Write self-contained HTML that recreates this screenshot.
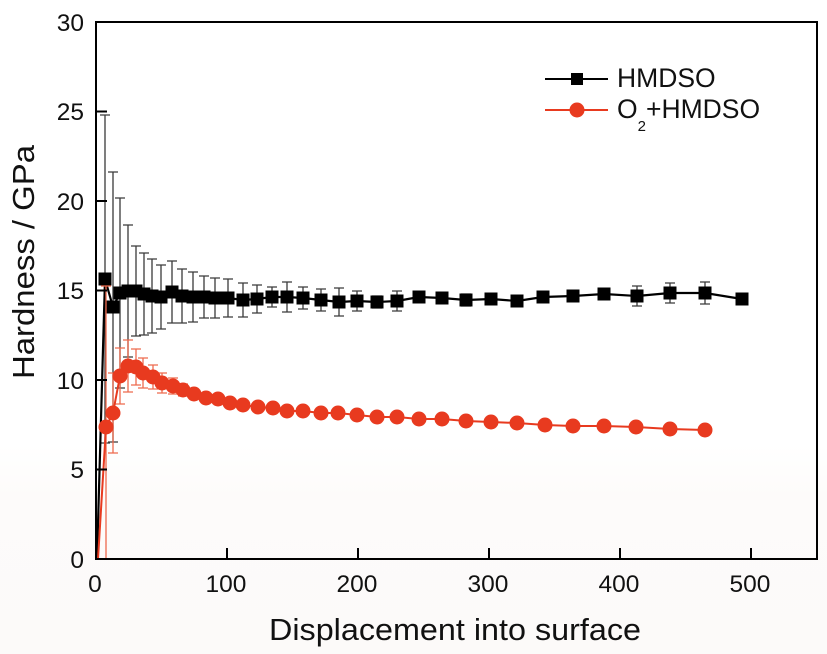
<!DOCTYPE html>
<html>
<head>
<meta charset="utf-8">
<style>
  html, body { margin:0; padding:0; background:#ffffff; }
  svg { display:block; }
  text { font-family: "Liberation Sans", Arial, sans-serif; fill:#111; }
</style>
</head>
<body>
<svg width="827" height="654" viewBox="0 0 827 654" xmlns="http://www.w3.org/2000/svg">
  <defs>
    <linearGradient id="bg" x1="0" y1="0" x2="0" y2="1">
      <stop offset="0" stop-color="#ffffff"/>
      <stop offset="0.68" stop-color="#ffffff"/>
      <stop offset="0.76" stop-color="#fdfbfa"/>
      <stop offset="1" stop-color="#fcfaf9"/>
    </linearGradient>
  </defs>
  <rect x="0" y="0" width="827" height="654" fill="url(#bg)"/>

  <!-- Black error bars -->
  <g stroke="#3a3a3a" stroke-width="1.3" fill="none">
    <path d="
M105,115V443M100,115h10M100,443h10
M113,172V442M108,172h10M108,442h10
M120,198V388M115,198h10M115,388h10
M128,225V357M123,225h10M123,357h10
M136,246V336M131,246h10M131,336h10
M144,253V335M139,253h10M139,335h10
M152,259V333M147,259h10M147,333h10
M161,265V329M156,265h10M156,329h10
M172,261V323M167,261h10M167,323h10
M182,269V323M177,269h10M177,323h10
M193,272V322M188,272h10M188,322h10
M204,276V318M199,276h10M199,318h10
M215,278V318M210,278h10M210,318h10
M228,279V317M223,279h10M223,317h10
M243,283V317M238,283h10M238,317h10
M257,285V313M252,285h10M252,313h10
M272,287V307M267,287h10M267,307h10
M287,282V312M282,282h10M282,312h10
M303,287V309M298,287h10M298,309h10
M321,289V311M316,289h10M316,311h10
M339,288V316M334,288h10M334,316h10
M357,291V311M352,291h10M352,311h10
M377,296V308M372,296h10M372,308h10
M397,291V311M392,291h10M392,311h10
M419,292V302M414,292h10M414,302h10
M442,293V303M437,293h10M437,303h10
M466,294V306M461,294h10M461,306h10
M491,295V303M486,295h10M486,303h10
M517,296V306M512,296h10M512,306h10
M543,293V301M538,293h10M538,301h10
M573,291V301M568,291h10M568,301h10
M604,290V298M599,290h10M599,298h10
M637,286V306M632,286h10M632,306h10
M670,283V303M665,283h10M665,303h10
M705,282V304M700,282h10M700,304h10
"/>
  </g>

  <!-- Black line -->
  <polyline fill="none" stroke="#000" stroke-width="2.2" points="97,559 105,279 113,307 120,293 128,291 136,291 144,294 152,296 161,297 172,292 182,296 193,297 204,297 215,298 228,298 243,300 257,299 272,297 287,297 303,298 321,300 339,302 357,301 377,302 397,301 419,297 442,298 466,300 491,299 517,301 543,297 573,296 604,294 637,296 670,293 705,293 742,299"/>

  <!-- Black squares -->
  <g fill="#000">
    <rect x="98.5" y="272.5" width="13" height="13"/>
    <rect x="106.5" y="300.5" width="13" height="13"/>
    <rect x="113.5" y="286.5" width="13" height="13"/>
    <rect x="121.5" y="284.5" width="13" height="13"/>
    <rect x="129.5" y="284.5" width="13" height="13"/>
    <rect x="137.5" y="287.5" width="13" height="13"/>
    <rect x="145.5" y="289.5" width="13" height="13"/>
    <rect x="154.5" y="290.5" width="13" height="13"/>
    <rect x="165.5" y="285.5" width="13" height="13"/>
    <rect x="175.5" y="289.5" width="13" height="13"/>
    <rect x="186.5" y="290.5" width="13" height="13"/>
    <rect x="197.5" y="290.5" width="13" height="13"/>
    <rect x="208.5" y="291.5" width="13" height="13"/>
    <rect x="221.5" y="291.5" width="13" height="13"/>
    <rect x="236.5" y="293.5" width="13" height="13"/>
    <rect x="250.5" y="292.5" width="13" height="13"/>
    <rect x="265.5" y="290.5" width="13" height="13"/>
    <rect x="280.5" y="290.5" width="13" height="13"/>
    <rect x="296.5" y="291.5" width="13" height="13"/>
    <rect x="314.5" y="293.5" width="13" height="13"/>
    <rect x="332.5" y="295.5" width="13" height="13"/>
    <rect x="350.5" y="294.5" width="13" height="13"/>
    <rect x="370.5" y="295.5" width="13" height="13"/>
    <rect x="390.5" y="294.5" width="13" height="13"/>
    <rect x="412.5" y="290.5" width="13" height="13"/>
    <rect x="435.5" y="291.5" width="13" height="13"/>
    <rect x="459.5" y="293.5" width="13" height="13"/>
    <rect x="484.5" y="292.5" width="13" height="13"/>
    <rect x="510.5" y="294.5" width="13" height="13"/>
    <rect x="536.5" y="290.5" width="13" height="13"/>
    <rect x="566.5" y="289.5" width="13" height="13"/>
    <rect x="597.5" y="287.5" width="13" height="13"/>
    <rect x="630.5" y="289.5" width="13" height="13"/>
    <rect x="663.5" y="286.5" width="13" height="13"/>
    <rect x="698.5" y="286.5" width="13" height="13"/>
    <rect x="735.5" y="292.5" width="13" height="13"/>
  </g>

  <!-- Red error bars -->
  <g stroke="#ee6a4e" stroke-width="1.3" fill="none">
    <path d="
M106,286V559M101,286h10
M113,373V453M108,373h10M108,453h10
M120,348V404M115,348h10M115,404h10
M128,340V392M123,340h10M123,392h10
M136,349V385M131,349h10M131,385h10
M143,358V388M138,358h10M138,388h10
M153,365V389M148,365h10M148,389h10
M162,373V393M157,373h10M157,393h10
M173,378V394M168,378h10M168,394h10
M183,384V396M178,384h10M178,396h10
M194,389V399M189,389h10M189,399h10
"/>
  </g>

  <!-- Red line -->
  <polyline fill="none" stroke="#e83a1f" stroke-width="2" points="98,559 106,427 113,413 120,376 128,366 136,367 143,373 153,377 162,383 173,386 183,390 194,394 206,398 218,399 230,403 243,405 258,407 273,408 287,411 303,411 321,413 338,413 357,415 377,417 397,417 419,419 442,419 466,421 491,422 517,423 545,425 573,426 604,426 636,427 670,429 705,430"/>

  <!-- Red circles -->
  <g fill="#e83a1f">
    <circle cx="106" cy="427" r="7.5"/>
    <circle cx="113" cy="413" r="7.5"/>
    <circle cx="120" cy="376" r="7.5"/>
    <circle cx="128" cy="366" r="7.5"/>
    <circle cx="136" cy="367" r="7.5"/>
    <circle cx="143" cy="373" r="7.5"/>
    <circle cx="153" cy="377" r="7.5"/>
    <circle cx="162" cy="383" r="7.5"/>
    <circle cx="173" cy="386" r="7.5"/>
    <circle cx="183" cy="390" r="7.5"/>
    <circle cx="194" cy="394" r="7.5"/>
    <circle cx="206" cy="398" r="7.5"/>
    <circle cx="218" cy="399" r="7.5"/>
    <circle cx="230" cy="403" r="7.5"/>
    <circle cx="243" cy="405" r="7.5"/>
    <circle cx="258" cy="407" r="7.5"/>
    <circle cx="273" cy="408" r="7.5"/>
    <circle cx="287" cy="411" r="7.5"/>
    <circle cx="303" cy="411" r="7.5"/>
    <circle cx="321" cy="413" r="7.5"/>
    <circle cx="338" cy="413" r="7.5"/>
    <circle cx="357" cy="415" r="7.5"/>
    <circle cx="377" cy="417" r="7.5"/>
    <circle cx="397" cy="417" r="7.5"/>
    <circle cx="419" cy="419" r="7.5"/>
    <circle cx="442" cy="419" r="7.5"/>
    <circle cx="466" cy="421" r="7.5"/>
    <circle cx="491" cy="422" r="7.5"/>
    <circle cx="517" cy="423" r="7.5"/>
    <circle cx="545" cy="425" r="7.5"/>
    <circle cx="573" cy="426" r="7.5"/>
    <circle cx="604" cy="426" r="7.5"/>
    <circle cx="636" cy="427" r="7.5"/>
    <circle cx="670" cy="429" r="7.5"/>
    <circle cx="705" cy="430" r="7.5"/>
  </g>

  <!-- Frame -->
  <rect x="96" y="22" width="721" height="537" fill="none" stroke="#000" stroke-width="2"/>

  <!-- Ticks -->
  <g stroke="#000" stroke-width="2">
    <path d="M96,469.5h11M96,380h11M96,290.5h11M96,201h11M96,111.5h11"/>
    <path d="M227,559v-11M358,559v-11M489,559v-11M620,559v-11M751,559v-11"/>
  </g>

  <!-- Y tick labels -->
  <g font-size="24.5" text-anchor="end">
    <text x="84" y="568">0</text>
    <text x="84" y="478">5</text>
    <text x="84" y="389">10</text>
    <text x="84" y="299">15</text>
    <text x="84" y="210">20</text>
    <text x="84" y="120">25</text>
    <text x="84" y="31">30</text>
  </g>

  <!-- X tick labels -->
  <g font-size="24.5" text-anchor="middle">
    <text x="95" y="592">0</text>
    <text x="226" y="592">100</text>
    <text x="357" y="592">200</text>
    <text x="488" y="592">300</text>
    <text x="619" y="592">400</text>
    <text x="750" y="592">500</text>
  </g>

  <!-- Axis labels -->
  <text x="455" y="640" font-size="31" text-anchor="middle" textLength="372" lengthAdjust="spacingAndGlyphs">Displacement into surface</text>
  <text transform="translate(34,262) rotate(-90)" font-size="31" text-anchor="middle" textLength="234" lengthAdjust="spacingAndGlyphs">Hardness / GPa</text>

  <!-- Legend -->
  <line x1="545" y1="79" x2="608" y2="79" stroke="#000" stroke-width="2"/>
  <rect x="571" y="73" width="12" height="12" fill="#000"/>
  <text x="617" y="87" font-size="26.5">HMDSO</text>
  <line x1="545" y1="110" x2="608" y2="110" stroke="#e83a1f" stroke-width="2"/>
  <circle cx="577" cy="110" r="7.5" fill="#e83a1f"/>
  <text x="617" y="118" font-size="26.5">O<tspan font-size="15" dy="13">2</tspan><tspan dy="-13">+HMDSO</tspan></text>
</svg>
</body>
</html>
